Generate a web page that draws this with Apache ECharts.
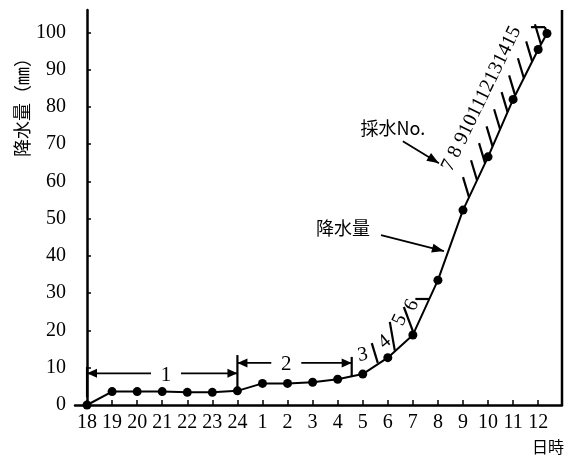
<!DOCTYPE html>
<html><head><meta charset="utf-8">
<script src="https://cdn.jsdelivr.net/npm/echarts@6/dist/echarts.min.js"></script>
<style>html,body{margin:0;padding:0;background:#fff}#c{width:571px;height:456px}</style>
</head><body><div id="c"></div>
<script>
// ---- data ----
const timeLabels = ['18','19','20','21','22','23','24','1','2','3','4','5','6','7','8','9','10','11','12'];
const labelHours = [0,1,2,3,4,5,6,7,8,9,10,11,12,13,14,15,16,17,18];
const hours    = [0,1,2,3,4,5,6,7,8,9,10,11,12,13,14,15,16,17,18,18.35];
const rainfall = [0,3.6,3.6,3.6,3.4,3.4,3.8,5.8,5.8,6.1,6.9,8.3,12.7,18.8,33.5,52.3,66.6,82.0,95.4,99.7];
const yTicks = [0,10,20,30,40,50,60,70,80,90,100];
// sampling periods shown as brackets: [from, to, y, label, labelX]
const periodBrackets = [[0,6,8.5,'1',3.15],[6,10.56,11.3,'2',7.95]];
// vertical bars at bracket ends: [x, yLow, yHigh]
const bracketBars = [[0,2.1,10.2],[6,3.2,13.4],[10.56,7.5,12.9]];
// sample boundary strokes, explicit (data coords): [x1,y1,x2,y2]
const sampleStrokes = [
  [11.60,11.3,11.36,16.6],
  [12.28,14.6,12.08,22.3],
  [13.03,19.3,12.64,26.3],
  [13.10,28.45,13.66,28.45],
  [17.71,101.4,18.27,101.4],
  [18.27,101.4,18.35,99.7]
];
// sample boundary ticks on the steep part: base points on the curve [x, y]
const sampleTicks = [[15.24,55.8],[15.56,60.3],[15.88,64.9],[16.18,69.4],[16.48,74.0],[16.78,78.6],[17.08,83.1],[17.43,87.7],[17.76,92.2],[18.11,96.8]];
// sample numbers: [x, y, text, rotationDeg]
const sampleLabels = [[11.0,13.4,'3',10],[11.88,16.9,'4',40],[12.48,22.8,'5',65],[12.96,26.8,'6',65]];
const sampleLabelRun = [15.74,82.2,'7 8 9101112131415',64];
// callouts: [textX, textY, text, arrowFromX, arrowFromY, arrowToX, arrowToY]
const callouts = [
  [10.21,47.5,'降水量',11.73,45.6,14.24,41.3],
  [12.2,74.3,'採水No.',12.6,70.8,14.04,64.9]
];

// ---- chart ----
const chart = echarts.init(document.getElementById('c'), null, {renderer:'canvas'});
const serif = '"Liberation Serif"';
const cjk = '"Noto Sans CJK JP"';

function arrowHead(tip, from, len, wid) {
  const dx = tip[0]-from[0], dy = tip[1]-from[1];
  const d = Math.sqrt(dx*dx+dy*dy) || 1;
  const ux = dx/d, uy = dy/d;
  const bx = tip[0]-ux*len, by = tip[1]-uy*len;
  return {type:'polygon', shape:{points:[tip,[bx-uy*wid,by+ux*wid],[bx+uy*wid,by-ux*wid]]}, style:{fill:'#000'}};
}
function seg(a,b,w){return {type:'line', shape:{x1:a[0],y1:a[1],x2:b[0],y2:b[1]}, style:{stroke:'#000', lineWidth:w||1.6}};}

function renderAnnotations(params, api) {
  const ch = [];
  periodBrackets.forEach(b => {
    const p1 = api.coord([b[0], b[2]]), p2 = api.coord([b[1], b[2]]);
    const mid = api.coord([b[4], b[2]])[0];
    ch.push(seg(p1,[mid-15,p1[1]],1.8), seg([mid+15,p1[1]],p2,1.8));
    ch.push(arrowHead(p1,[p1[0]+10,p1[1]],10,4.5), arrowHead(p2,[p2[0]-10,p2[1]],10,4.5));
    ch.push({type:'text', x:mid, y:p1[1]+2, style:{text:b[3], font:'21px '+serif, fill:'#000', textAlign:'center', textVerticalAlign:'middle'}});
  });
  bracketBars.forEach(b => ch.push(seg(api.coord([b[0],b[1]]), api.coord([b[0],b[2]]), 2.2)));
  sampleStrokes.forEach(s => ch.push(seg(api.coord([s[0],s[1]]), api.coord([s[2],s[3]]), 2.2)));
  sampleTicks.forEach(t => {
    const p = api.coord(t);
    ch.push(seg(p, [p[0]-6, p[1]-20], 2.2));
  });
  sampleLabels.forEach(l => {
    const p = api.coord([l[0],l[1]]);
    ch.push({type:'text', x:p[0], y:p[1], rotation:l[3]*Math.PI/180, style:{text:l[2], font:'20px '+serif, fill:'#000', textAlign:'center', textVerticalAlign:'middle'}});
  });
  {
    const p = api.coord([sampleLabelRun[0], sampleLabelRun[1]]);
    ch.push({type:'text', x:p[0], y:p[1], rotation:sampleLabelRun[3]*Math.PI/180, style:{text:sampleLabelRun[2], font:'20px '+serif, fill:'#000', textAlign:'center', textVerticalAlign:'middle'}});
  }
  callouts.forEach(c => {
    const t = api.coord([c[0],c[1]]);
    ch.push({type:'text', x:t[0], y:t[1], style:{text:c[2], font:'18px '+cjk, fill:'#000', textAlign:'center', textVerticalAlign:'middle'}});
    const a = api.coord([c[3],c[4]]), b = api.coord([c[5],c[6]]);
    ch.push(seg(a,b,1.8), arrowHead(b,a,12,4.5));
  });
  return {type:'group', children:ch};
}

chart.setOption({
  animation:false,
  backgroundColor:'#fff',
  grid:{left:75, right:9, top:10, bottom:51, show:false},
  xAxis:{
    type:'value', min:-0.48, max:18.95,
    axisLine:{show:true, onZero:false, lineStyle:{color:'#000', width:2.5}},
    splitLine:{show:false},
    axisTick:{show:true, inside:true, length:5, customValues:labelHours, lineStyle:{color:'#000', width:1.5}},
    axisLabel:{show:true, customValues:labelHours, margin:8, color:'#000', fontFamily:'Liberation Serif', fontSize:20,
      formatter:v => { const i = labelHours.indexOf(Math.round(v)); return i>=0 ? timeLabels[i] : ''; }}
  },
  yAxis:{
    type:'value', min:0, max:106,
    axisLine:{show:true, lineStyle:{color:'#000', width:2.5}},
    splitLine:{show:false},
    axisTick:{show:true, inside:true, length:4, customValues:yTicks, lineStyle:{color:'#000', width:1.5}},
    axisLabel:{show:true, customValues:yTicks, margin:9, color:'#000', fontFamily:'Liberation Serif', fontSize:20}
  },
  graphic:[
    {type:'line', shape:{x1:562, y1:10, x2:562, y2:405}, style:{stroke:'#000', lineWidth:2.5}},
    {type:'text', x:22, y:103, rotation:Math.PI/2, style:{text:'降水量（㎜）', font:'18px '+cjk, fill:'#000', textAlign:'center', textVerticalAlign:'middle'}},
    {type:'text', x:548, y:447, style:{text:'日時', font:'16px '+cjk, fill:'#000', textAlign:'center', textVerticalAlign:'middle'}}
  ],
  series:[
    {type:'line', data:hours.map((h,i)=>[h, rainfall[i]]), symbol:'circle', symbolSize:9,
     lineStyle:{color:'#000', width:2}, itemStyle:{color:'#000'}, z:3},
    {type:'custom', data:[0], renderItem:renderAnnotations, silent:true, z:4}
  ]
});
</script>
</body></html>
